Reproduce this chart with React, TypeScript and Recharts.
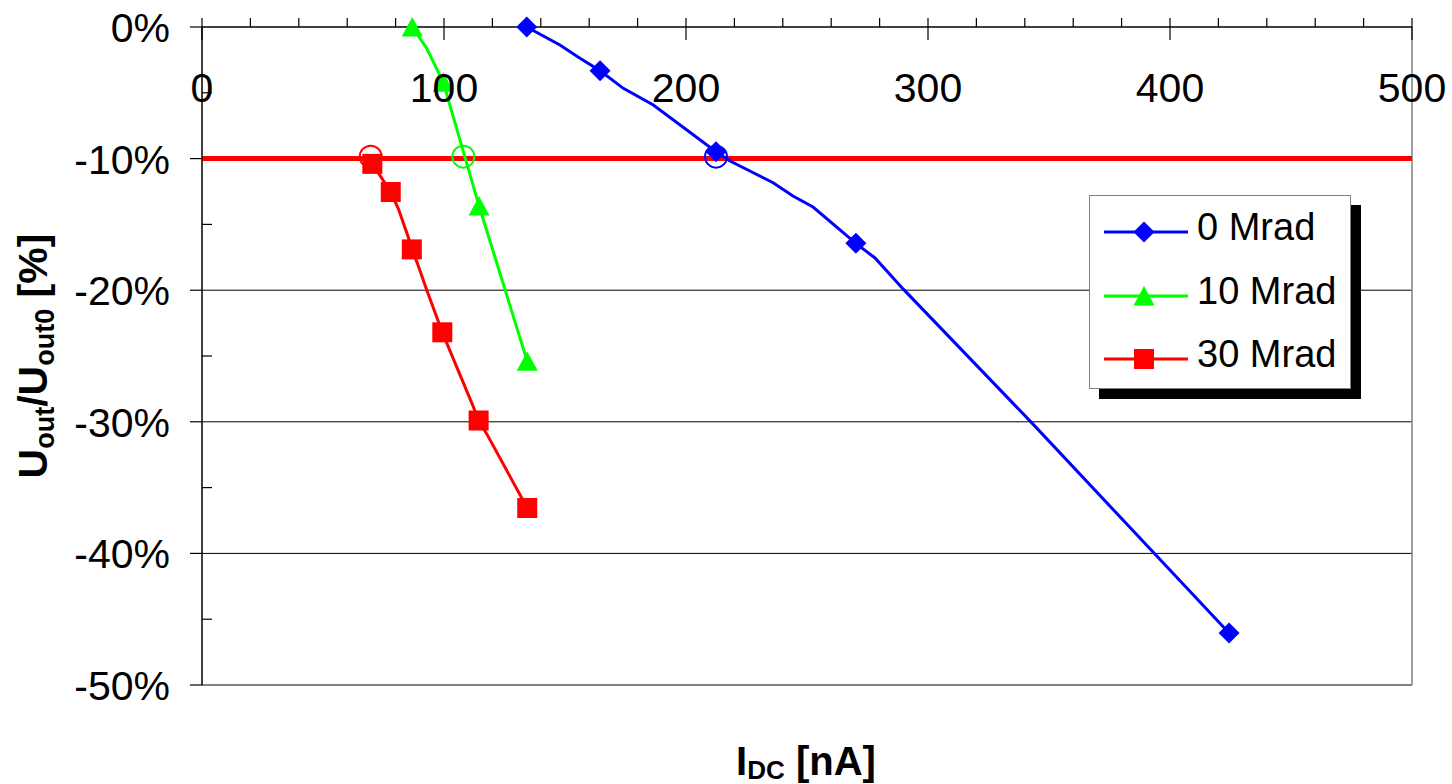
import React from 'react';
import { LineChart, Line, XAxis, YAxis, ReferenceLine, Legend } from 'recharts';

const FONT = '"Liberation Sans", Arial, Helvetica, sans-serif';

// ---------- data ----------
const seriesNames = ['0 Mrad', '10 Mrad', '30 Mrad'];
const seriesColors = ['#0000ff', '#00ff00', '#ff0000'];
const seriesShapes = ['diamond', 'triangle', 'square'];

const xTicks = [0, 20, 40, 60, 80, 100, 120, 140, 160, 180, 200, 220, 240, 260, 280, 300, 320, 340, 360, 380, 400, 420, 440, 460, 480, 500];
const xLabelTicks = [0, 100, 200, 300, 400, 500];
const yTicks = [0, -5, -10, -15, -20, -25, -30, -35, -40, -45, -50];
const yLabelTicks = [0, -10, -20, -30, -40, -50];
const gridValues = [-20, -30, -40, -50];
const thresholdValue = -10;
const xMax = 500;

// 0 Mrad
const curve0 = [
  { x: 134.2, y: 0 },
  { x: 147.9, y: -1.37 },
  { x: 156.2, y: -2.38 },
  { x: 164.5, y: -3.32 },
  { x: 174.1, y: -4.66 },
  { x: 186.5, y: -5.93 },
  { x: 212.4, y: -9.48 },
  { x: 218.2, y: -10.18 },
  { x: 236.0, y: -11.83 },
  { x: 244.2, y: -12.84 },
  { x: 252.5, y: -13.68 },
  { x: 270.2, y: -16.44 },
  { x: 278.1, y: -17.55 },
  { x: 289.7, y: -19.9 },
  { x: 343.0, y: -30.1 },
  { x: 424.4, y: -46.05 },
];
const markers0 = [
  { x: 134.2, y: 0 },
  { x: 164.5, y: -3.32 },
  { x: 212.4, y: -9.48 },
  { x: 270.2, y: -16.44 },
  { x: 424.4, y: -46.05 },
];

// 10 Mrad
const curve10 = [
  { x: 86.9, y: 0 },
  { x: 92.8, y: -1.6 },
  { x: 99.7, y: -4.2 },
  { x: 114.5, y: -13.6 },
  { x: 134.4, y: -25.4 },
];
const markers10 = [
  { x: 86.9, y: 0 },
  { x: 99.7, y: -4.2 },
  { x: 114.5, y: -13.6 },
  { x: 134.4, y: -25.4 },
];

// 30 Mrad
const curve30 = [
  { x: 70.4, y: -10.4 },
  { x: 78.0, y: -12.54 },
  { x: 81.1, y: -13.8 },
  { x: 85.3, y: -16.0 },
  { x: 86.7, y: -16.9 },
  { x: 89.0, y: -17.96 },
  { x: 92.9, y: -20.0 },
  { x: 99.3, y: -23.2 },
  { x: 101.1, y: -24.0 },
  { x: 112.1, y: -28.85 },
  { x: 114.3, y: -29.9 },
  { x: 117.6, y: -30.9 },
  { x: 134.4, y: -36.55 },
];
const markers30 = [
  { x: 70.4, y: -10.4 },
  { x: 78.0, y: -12.54 },
  { x: 86.7, y: -16.9 },
  { x: 99.3, y: -23.2 },
  { x: 114.3, y: -29.9 },
  { x: 134.4, y: -36.55 },
];

// -10% crossing points (open circles)
const crossing0 = [{ x: 212.4, y: -9.85 }];
const crossing10 = [{ x: 108.0, y: -9.85 }];
const crossing30 = [{ x: 69.7, y: -9.85 }];

const curves = [curve0, curve10, curve30];
const markers = [markers0, markers10, markers30];
const crossings = [crossing0, crossing10, crossing30];

// ---------- drawing helpers ----------
function Marker({ shape, cx, cy, color }: { shape: string; cx: number; cy: number; color: string }) {
  if (cx == null || cy == null) return null;
  if (shape === 'diamond') {
    return <polygon points={`${cx},${cy - 10.5} ${cx + 10.5},${cy} ${cx},${cy + 10.5} ${cx - 10.5},${cy}`} fill={color} />;
  }
  if (shape === 'triangle') {
    return <polygon points={`${cx},${cy - 10} ${cx + 10.5},${cy + 9.5} ${cx - 10.5},${cy + 9.5}`} fill={color} />;
  }
  if (shape === 'square') {
    return <rect x={cx - 10} y={cy - 10} width={20} height={20} fill={color} />;
  }
  return <circle cx={cx} cy={cy} r={11} fill="none" stroke={color} strokeWidth={2} />;
}

const XTick = (props: any) => {
  const { x, y, payload } = props;
  const v = payload.value;
  const major = xLabelTicks.includes(v);
  return (
    <g>
      <line x1={x} x2={x} y1={y - 9} y2={major ? y + 13 : y} stroke="#000" strokeWidth={1.2} />
      {major && (
        <text x={x} y={y + 75} textAnchor="middle" fontSize={41} fontFamily={FONT} fill="#000">
          {v}
        </text>
      )}
    </g>
  );
};

const YTick = (props: any) => {
  const { x, y, payload } = props;
  const v = payload.value;
  const major = yLabelTicks.includes(v);
  return (
    <g>
      {major ? (
        <line x1={x - 12} x2={x} y1={y} y2={y} stroke="#000" strokeWidth={1.2} />
      ) : (
        <line x1={x} x2={x + 10} y1={y} y2={y} stroke="#000" strokeWidth={1.2} />
      )}
      {major && (
        <text x={x - 32} y={y + 15} textAnchor="end" fontSize={41} fontFamily={FONT} fill="#000">
          {`${v}%`}
        </text>
      )}
    </g>
  );
};

const legendRowY = [36, 100, 163];

const LegendBox = () => (
  <div
    style={{
      width: 262,
      height: 194,
      boxSizing: 'border-box',
      border: '1px solid #808080',
      background: '#fff',
      boxShadow: '10px 10px 0 #000',
      position: 'relative',
    }}
  >
    <svg width={260} height={192} style={{ position: 'absolute', left: 0, top: 0 }}>
      {seriesNames.map((name, i) => {
        const cy = legendRowY[i];
        return (
          <g key={name}>
            <line x1={14} x2={98} y1={cy} y2={cy} stroke={seriesColors[i]} strokeWidth={3} />
            <Marker shape={seriesShapes[i]} cx={54} cy={cy} color={seriesColors[i]} />
            <text x={107} y={cy + 8} fontSize={38} fontFamily={FONT} fill="#000">
              {name}
            </text>
          </g>
        );
      })}
    </svg>
  </div>
);

export default function App() {
  return (
    <div style={{ position: 'absolute', left: 0, top: 0, width: 1452, height: 784, background: '#fff' }}>
      <LineChart width={1452} height={784} margin={{ top: 0, left: 0, right: 40, bottom: 99 }}>
        <XAxis
          type="number"
          dataKey="x"
          orientation="top"
          domain={[0, xMax]}
          ticks={xTicks}
          interval={0}
          height={27}
          tickSize={0}
          tickMargin={0}
          tickLine={false}
          axisLine={{ stroke: '#000', strokeWidth: 1.5 }}
          tick={XTick}
        />
        <YAxis
          type="number"
          dataKey="y"
          domain={[-50, 0]}
          ticks={yTicks}
          interval={0}
          width={202}
          tickSize={0}
          tickMargin={0}
          tickLine={false}
          axisLine={{ stroke: '#000', strokeWidth: 1.5 }}
          tick={YTick}
        />
        {gridValues.map((v) => (
          <ReferenceLine key={`g${v}`} y={v} stroke="#000" strokeWidth={1} />
        ))}
        <ReferenceLine x={xMax} stroke="#808080" strokeWidth={1.5} />
        <ReferenceLine y={thresholdValue} stroke="#ff0000" strokeWidth={5} />
        {curves.map((c, i) => (
          <Line
            key={`c${i}`}
            data={c}
            dataKey="y"
            type="linear"
            stroke={seriesColors[i]}
            strokeWidth={3}
            dot={false}
            activeDot={false}
            isAnimationActive={false}
          />
        ))}
        {markers.map((m, i) => (
          <Line
            key={`m${i}`}
            data={m}
            dataKey="y"
            type="linear"
            stroke="none"
            strokeWidth={0}
            dot={(p: any) => (
              <Marker key={`mk${i}-${p.index}`} shape={seriesShapes[i]} cx={p.cx} cy={p.cy} color={seriesColors[i]} />
            )}
            activeDot={false}
            isAnimationActive={false}
          />
        ))}
        {crossings.map((m, i) => (
          <Line
            key={`x${i}`}
            data={m}
            dataKey="y"
            type="linear"
            stroke="none"
            strokeWidth={0}
            dot={(p: any) => (
              <Marker key={`cr${i}-${p.index}`} shape="circle" cx={p.cx} cy={p.cy} color={seriesColors[i]} />
            )}
            activeDot={false}
            isAnimationActive={false}
          />
        ))}
        <Legend
          layout="vertical"
          align="center"
          verticalAlign="middle"
          wrapperStyle={{ left: 1089, top: 195, width: 262, height: 194 }}
          content={() => <LegendBox />}
        />
      </LineChart>
      <svg
        width={1452}
        height={784}
        style={{ position: 'absolute', left: 0, top: 0, pointerEvents: 'none' }}
      >
        <text x={806} y={775} textAnchor="middle" fontSize={40} fontWeight="bold" fontFamily={FONT} fill="#000">
          I
          <tspan fontSize={26} dy={4}>DC</tspan>
          <tspan dy={-4}> [nA]</tspan>
        </text>
        <text
          transform="translate(47, 356) rotate(-90)"
          x={0}
          y={0}
          textAnchor="middle"
          fontSize={41}
          fontWeight="bold"
          fontFamily={FONT}
          fill="#000"
        >
          U
          <tspan fontSize={27} dy={7}>out</tspan>
          <tspan dy={-7}>/U</tspan>
          <tspan fontSize={27} dy={7}>out0</tspan>
          <tspan dy={-7}> [%]</tspan>
        </text>
      </svg>
    </div>
  );
}
